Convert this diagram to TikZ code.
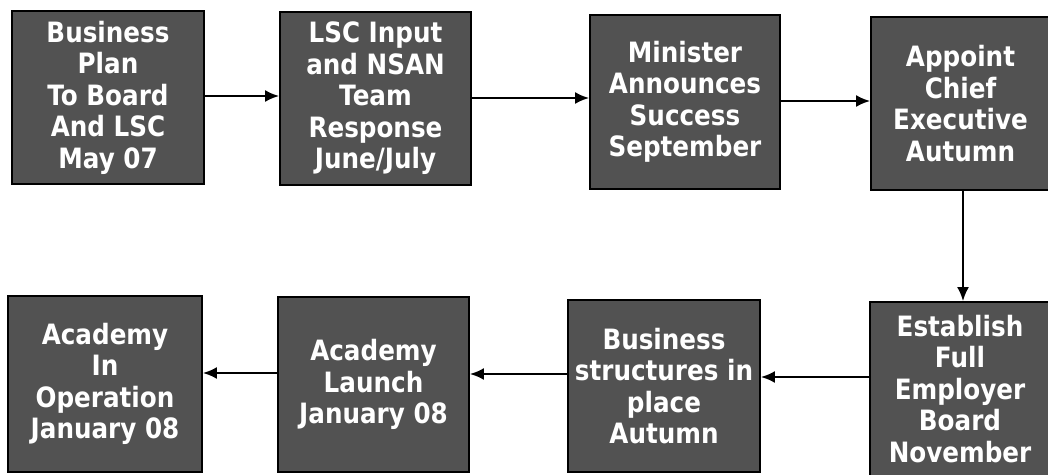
\documentclass[tikz,border=0pt]{standalone}
\usepackage{fontspec}
\setmainfont{DejaVu Sans}
\newfontfamily\boxfont[FakeStretch=0.88]{DejaVu Sans}
\usetikzlibrary{arrows.meta}
\definecolor{boxgray}{RGB}{82,82,82}
\tikzset{
  stepbox/.style={draw=black, line width=1.8pt, fill=boxgray, text=white,
    font=\boxfont\bfseries\fontsize{28}{31.5}\selectfont, align=center, inner sep=0pt},
  flow/.style={line width=2.2pt, -{Latex[length=14pt,width=12pt]}}
}
\newcommand{\boxat}[6]{% name, x1, y1, x2, y2, text
  \node[stepbox, minimum width={(#4-#2)*1pt}, minimum height={(#5-#3)*1pt}] (#1) at ({(#2+#4)/2},{(#3+#5)/2}) {#6};}
\begin{document}
\begin{tikzpicture}[x=1pt,y=-1pt]
\useasboundingbox (0,0) rectangle (1048,474);
\boxat{b1}{12}{11}{204}{184}{Business\\Plan\\To Board\\And LSC\\May 07}
\boxat{b2}{280}{12}{471}{185}{LSC Input\\and NSAN\\Team\\Response\\June/July}
\boxat{b3}{590}{15}{780}{189}{Minister\\Announces\\Success\\September}
\boxat{b4}{871}{17}{1050}{190}{Appoint\\Chief\\Executive\\Autumn}
\boxat{b5}{870}{302}{1050}{476}{Establish\\Full\\Employer\\Board\\November}
\boxat{b6}{568}{300}{760}{472}{Business\\structures in\\place\\Autumn}
\boxat{b7}{278}{297}{469}{472}{Academy\\Launch\\January 08}
\boxat{b8}{8}{296}{202}{472}{Academy\\In\\Operation\\January 08}
\draw[flow] (b1.east |- 0,96) -- (b2.west |- 0,96);
\draw[flow] (b2.east |- 0,98) -- (b3.west |- 0,98);
\draw[flow] (b3.east |- 0,101) -- (b4.west |- 0,101);
\draw[flow] (963,0 |- b4.south) -- (963,0 |- b5.north);
\draw[flow] (b5.west |- 0,377) -- (b6.east |- 0,377);
\draw[flow] (b6.west |- 0,374) -- (b7.east |- 0,374);
\draw[flow] (b7.west |- 0,373) -- (b8.east |- 0,373);
\end{tikzpicture}
\end{document}
